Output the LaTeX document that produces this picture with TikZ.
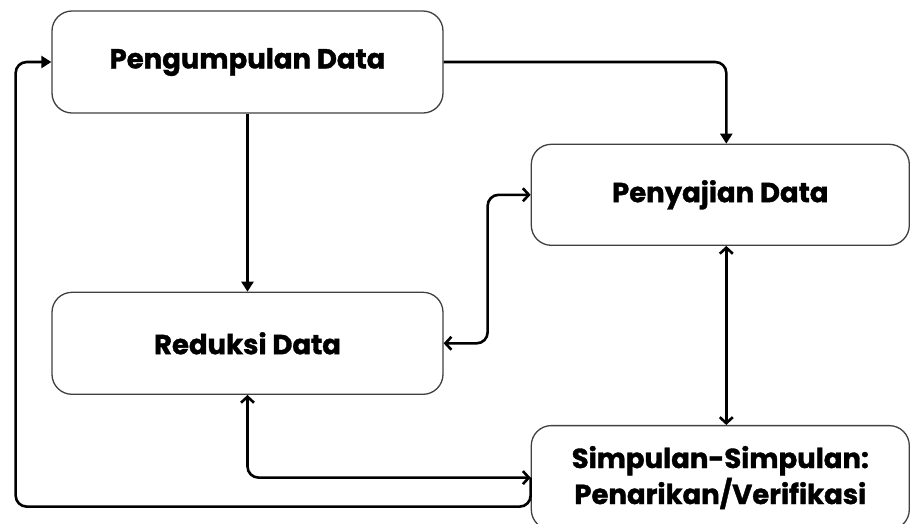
\documentclass[tikz,border=0pt]{standalone}
\usepackage{fontspec}
\setmainfont{Poppins}[BoldFeatures={FakeBold=1.3}]
\usetikzlibrary{positioning,arrows.meta}

\begin{document}
\begin{tikzpicture}
		[x=1pt,y=1pt,
		box/.style={rectangle,rounded corners=20pt,draw=black!75,line width=1.3pt,fill=white,
			minimum width=391pt,minimum height=102pt,align=center,
			font=\fontsize{27.5}{36}\selectfont\bfseries},
		wide/.style={box,minimum width=378pt,minimum height=101pt},
		arr/.style={line width=2.6pt,rounded corners=11pt,-{Triangle[length=10pt,width=12pt]}},
		dbl/.style={line width=2.6pt,rounded corners=11pt,{Straight Barb[length=6pt,width=13pt]}-{Straight Barb[length=6pt,width=13pt]}}]
		\useasboundingbox (0,0) rectangle (911,-523);

		\node [box] (peng) at (247.5,-62) {Pengumpulan Data};
		\node [box] (redu) [below=178pt of peng] {Reduksi Data};
		\node [wide] (peny) [below right=30pt and 87pt of peng.south east] {Penyajian Data};
		\node [wide,minimum height=104pt] (simp) [below=179pt of peny] {Simpulan-Simpulan:\\Penarikan/Verifikasi};

		\draw [arr] (peng.east) -| ([xshift=6pt]peny.north);
		\draw [arr] (peng.south) -- (redu.north);
		\draw [dbl] (redu.east) -- ++(44pt,0) |- (peny.west);
		\draw [dbl] ([xshift=6pt]peny.south) -- ([xshift=6pt]simp.north);
		\draw [dbl] (redu.south) |- (simp.west);
		\draw [arr] (simp.west) |- ++(-515pt,-29pt) |- (peng.west);

	\end{tikzpicture}
\end{document}
